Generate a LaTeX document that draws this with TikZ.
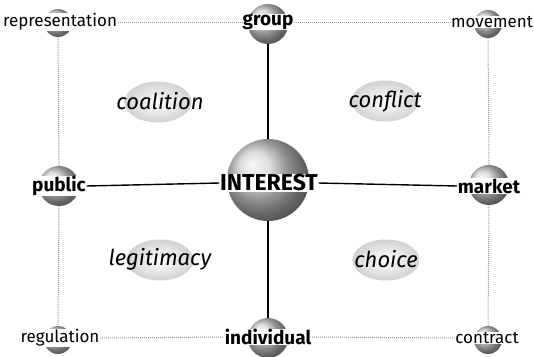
\documentclass[tikz,border=0pt]{standalone}
\usepackage{fontspec}
\setmainfont{Fira Sans}
\usetikzlibrary{shapes.geometric}
\tikzset{
  ballS/.style={circle, draw=none, shading=ball, ball color=gray!35, minimum size=28pt, inner sep=0pt},
  ballM/.style={circle, draw=none, shading=ball, ball color=gray!35, minimum size=40pt, inner sep=0pt},
  ballL/.style={circle, draw=none, shading=ball, ball color=gray!35, minimum size=82pt, inner sep=0pt},
  lbl/.style={font=\fontsize{17}{17}\selectfont, inner sep=0.5pt, fill=white},
  blbl/.style={font=\fontsize{19}{19}\selectfont\bfseries, inner sep=0.5pt, fill=white},
  biglbl/.style={font=\fontsize{23}{23}\selectfont\bfseries, inner sep=0.5pt, fill=white},
  quad/.style={ellipse, draw=none, minimum width=67pt, minimum height=41pt, inner sep=0pt, shading=radial, inner color=white, outer color=gray!35},
  qlbl/.style={font=\fontsize{22}{22}\selectfont\itshape, inner sep=0pt},
  dotline/.style={draw=gray!80, line width=1pt, dash pattern=on 1pt off 1pt},
  solidline/.style={draw=black, line width=1.4pt}
}
\begin{document}
\begin{tikzpicture}[x=1pt,y=-1pt]
\useasboundingbox (0,0) rectangle (534,356);
% quadrant ellipses
\node[quad] (qc) at (158,102) {};
\node[quad] (qf) at (385,101) {};
\node[quad] (ql) at (160,260) {};
\node[quad] (qh) at (386,260) {};
\node[qlbl] (tc) at (160,101) {coalition};
\node[qlbl] (tf) at (385,101) {conflict};
\node[qlbl] (tl) at (160,259) {legitimacy};
\node[qlbl] (th) at (386,259) {choice};
% spheres
\node[ballS] (brep) at (58,23) {};
\node[ballM] (bgrp) at (268,24) {};
\node[ballS] (bmov) at (488,24) {};
\node[ballM] (bpub) at (59,186) {};
\node[ballL] (bint) at (268,180) {};
\node[ballM] (bmkt) at (489,185) {};
\node[ballS] (breg) at (58,340) {};
\node[ballM] (bind) at (268,338) {};
\node[ballS] (bcon) at (488,340) {};
% labels
\node[lbl] (rep) at (60,22) {representation};
\node[blbl] (grp) at (268,22) {group};
\node[lbl] (mov) at (492,22) {movement};
\node[blbl] (pub) at (59,186) {public};
\node[biglbl] (int) at (269,183) {INTEREST};
\node[blbl] (mkt) at (489,186) {market};
\node[lbl] (reg) at (60,338) {regulation};
\node[blbl] (ind) at (268,337) {individual};
\node[lbl] (con) at (487,338) {contract};
% dotted frame
\draw[dotline] (rep.east) -- (grp.west);
\draw[dotline] (grp.east) -- (mov.west);
\draw[dotline] (reg.east) -- (ind.west);
\draw[dotline] (ind.east) -- (con.west);
\draw[dotline] (brep.south) -- (bpub.north);
\draw[dotline] (bpub.south) -- (breg.north);
\draw[dotline] (bmov.south) -- (bmkt.north);
\draw[dotline] (bmkt.south) -- (bcon.north);
% solid cross
\draw[solidline] (bgrp.south) -- (bint.north);
\draw[solidline] (bint.south) -- (bind.north);
\draw[solidline] (pub.east) -- (int.west);
\draw[solidline] (int.east) -- (mkt.west);
\end{tikzpicture}
\end{document}
